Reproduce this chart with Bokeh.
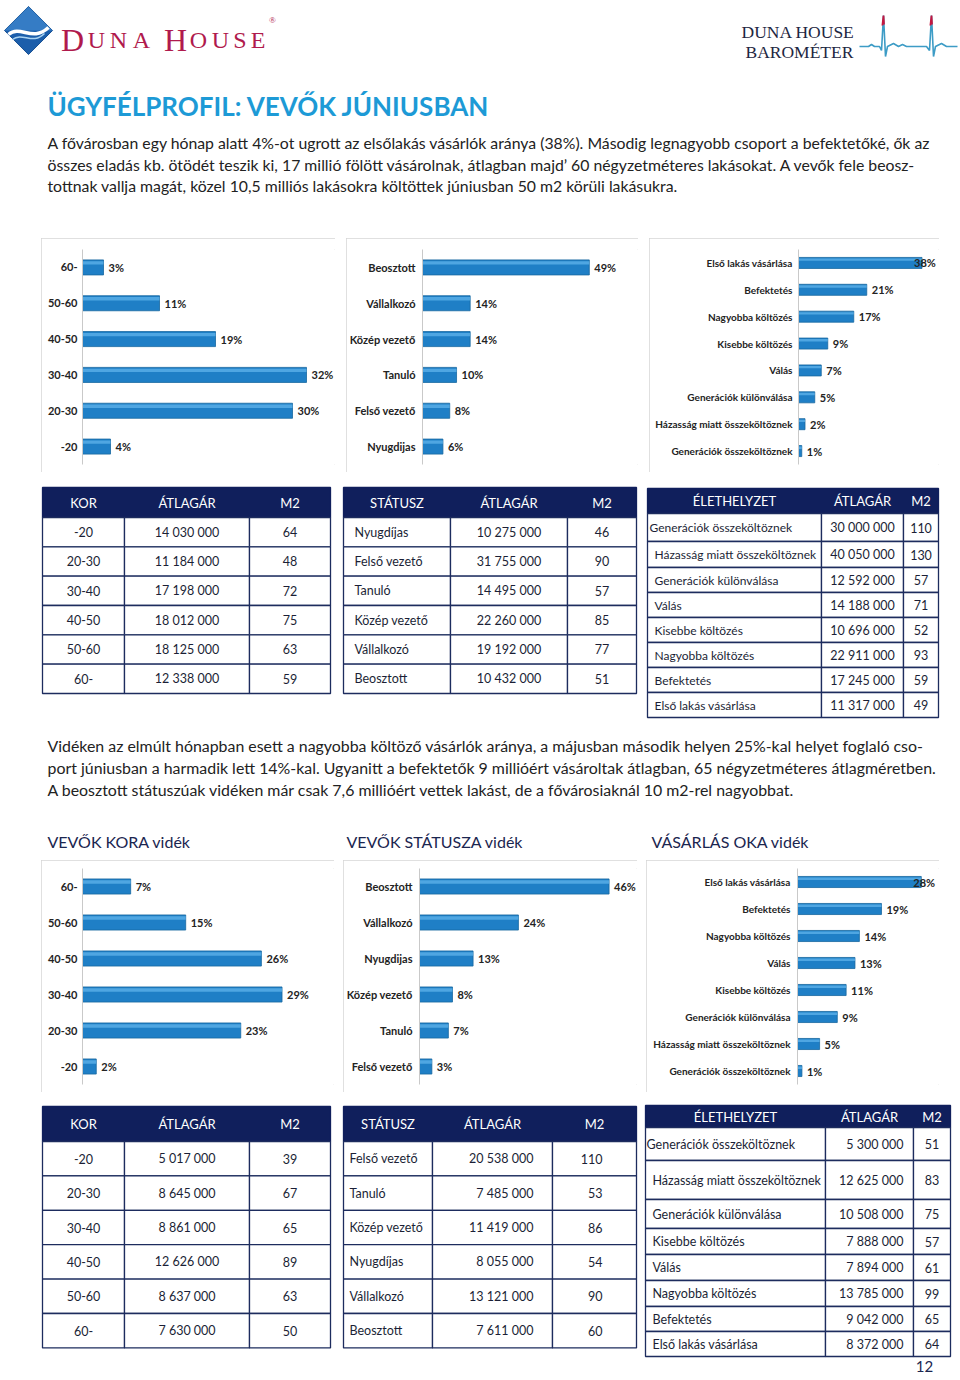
from math import pi
from bokeh.plotting import figure
from bokeh.layouts import column, row, Spacer
from bokeh.models import Range1d, FactorRange, ColumnDataSource
from bokeh.core.properties import value
from bokeh.transform import dodge
from bokeh.embed import file_html
from bokeh.resources import INLINE

# ---------------- data ----------------
age_cats = ["60-", "50-60", "40-50", "30-40", "20-30", "-20"]
age_bp = [3, 11, 19, 32, 30, 4]
status_cats_bp = ["Beosztott", "Vállalkozó", "Közép vezető", "Tanuló", "Felső vezető", "Nyugdijas"]
status_bp = [49, 14, 14, 10, 8, 6]
reason_cats_bp = ["Első lakás vásárlása", "Befektetés", "Nagyobba költözés", "Kisebbe költözés", "Válás",
                  "Generációk különválása", "Házasság miatt összeköltöznek", "Generációk összeköltöznek"]
reason_bp = [38, 21, 17, 9, 7, 5, 2, 1]

age_rural = [7, 15, 26, 29, 23, 2]
status_cats_rural = ["Beosztott", "Vállalkozó", "Nyugdijas", "Közép vezető", "Tanuló", "Felső vezető"]
status_rural = [46, 24, 13, 8, 7, 3]
reason_cats_rural = ["Első lakás vásárlása", "Befektetés", "Nagyobba költözés", "Válás", "Kisebbe költözés",
                     "Generációk különválása", "Házasság miatt összeköltöznek", "Generációk összeköltöznek"]
reason_rural = [28, 19, 14, 13, 11, 9, 5, 1]

# tables (Budapest)
t_age_rows = ["-20", "20-30", "30-40", "40-50", "50-60", "60-"]
t_age_price_bp = [14030000, 11184000, 17198000, 18012000, 18125000, 12338000]
t_age_m2_bp = [64, 48, 72, 75, 63, 59]
t_status_rows_bp = ["Nyugdíjas", "Felső vezető", "Tanuló", "Közép vezető", "Vállalkozó", "Beosztott"]
t_status_price_bp = [10275000, 31755000, 14495000, 22260000, 19192000, 10432000]
t_status_m2_bp = [46, 90, 57, 85, 77, 51]
t_reason_rows_bp = ["Generációk összeköltöznek", "Házasság miatt összeköltöznek", "Generációk különválása",
                    "Válás", "Kisebbe költözés", "Nagyobba költözés", "Befektetés", "Első lakás vásárlása"]
t_reason_price_bp = [30000000, 40050000, 12592000, 14188000, 10696000, 22911000, 17245000, 11317000]
t_reason_m2_bp = [110, 130, 57, 71, 52, 93, 59, 49]

# tables (rural)
t_age_price_r = [5017000, 8645000, 8861000, 12626000, 8637000, 7630000]
t_age_m2_r = [39, 67, 65, 89, 63, 50]
t_status_rows_r = ["Felső vezető", "Tanuló", "Közép vezető", "Nyugdíjas", "Vállalkozó", "Beosztott"]
t_status_price_r = [20538000, 7485000, 11419000, 8055000, 13121000, 7611000]
t_status_m2_r = [110, 53, 86, 54, 90, 60]
t_reason_rows_r = ["Generációk összeköltöznek", "Házasság miatt összeköltöznek", "Generációk különválása",
                   "Kisebbe költözés", "Válás", "Nagyobba költözés", "Befektetés", "Első lakás vásárlása"]
t_reason_price_r = [5300000, 12625000, 10508000, 7888000, 7894000, 13785000, 9042000, 8372000]
t_reason_m2_r = [51, 83, 75, 57, 61, 99, 65, 64]

para1 = [
    "A fővárosban egy hónap alatt 4%-ot ugrott az elsőlakás vásárlók aránya (38%). Másodig legnagyobb csoport a befektetőké, ők az",
    "összes eladás kb. ötödét teszik ki, 17 millió fölött vásárolnak, átlagban majd’ 60 négyzetméteres lakásokat. A vevők fele beosz-",
    "tottnak vallja magát, közel 10,5 milliós lakásokra költöttek júniusban 50 m2 körüli lakásukra.",
]
para2 = [
    "Vidéken az elmúlt hónapban esett a nagyobba költöző vásárlók aránya, a májusban második helyen 25%-kal helyet foglaló cso-",
    "port júniusban a harmadik lett 14%-kal. Ugyanitt a befektetők 9 millióért vásároltak átlagban, 65 négyzetméteres átlagméretben.",
    "A beosztott státuszúak vidéken már csak 7,6 millióért vettek lakást, de a fővárosiaknál 10 m2-rel nagyobbat.",
]
subtitles = ["VEVŐK KORA vidék", "VEVŐK STÁTUSZA vidék", "VÁSÁRLÁS OKA vidék"]

# ---------------- style ----------------
FONT = "Lato"
NAVY = "#101f5c"
TXT = "#1b1f36"
BAR = "#1f7fc6"
BAR_LINE = "#17679f"
BAR_HI = "#5bb0e8"


def fmt(v):
    return f"{v:,}".replace(",", " ")


def page_fig(h, y0, y1):
    p = figure(width=960, height=h, x_range=Range1d(0, 960), y_range=Range1d(y1, y0),
               output_backend="svg", toolbar_location=None, min_border=0,
               x_axis_location=None, y_axis_location=None)
    p.grid.visible = False
    p.outline_line_color = None
    p.background_fill_color = "white"
    p.border_fill_color = "white"
    return p


def txt(p, x, y, s, size, color=TXT, style="normal", align="left", font=FONT, baseline="middle"):
    p.text(x=[x], y=[y], text=[s], text_font=value(font), text_font_size=size,
           text_font_style=style, text_color=color, text_align=align, text_baseline=baseline)


def bar_chart(cats, vals, w, h, left, top, bottom, scale, bar_h, lab_size, offs, standoff):
    fw = w - left
    p = figure(width=w, height=h, y_range=FactorRange(factors=list(reversed(cats))),
               x_range=Range1d(0, fw / scale), output_backend="svg", toolbar_location=None,
               min_border_left=left, min_border_right=0, min_border_top=top, min_border_bottom=bottom,
               x_axis_location=None)
    p.grid.visible = False
    p.outline_line_color = None
    p.styles = {"outline": "1px solid #d6d6d6", "outline-offset": "-1px"}
    ax = p.yaxis[0]
    ax.axis_line_color = "#c9c9c9"
    ax.major_tick_line_color = None
    ax.minor_tick_line_color = None
    ax.major_tick_out = 0
    ax.major_tick_in = 0
    ax.minor_tick_out = 0
    ax.major_label_standoff = standoff
    ax.major_label_text_font = FONT
    ax.major_label_text_font_style = "bold"
    ax.major_label_text_font_size = lab_size
    ax.major_label_text_color = "#232323"
    src = ColumnDataSource(dict(cat=cats, val=vals, lbl=[f"{v}%" for v in vals], off=offs))
    p.hbar(y="cat", left=0, right="val", height=bar_h, source=src,
           fill_color=BAR, line_color=BAR_LINE, line_width=0.8)
    p.hbar(y=dodge("cat", bar_h * 0.3, range=p.y_range), left=0, right="val", height=bar_h * 0.22,
           source=src, fill_color=BAR_HI, line_color=None, fill_alpha=0.8)
    p.text(x="val", y="cat", text="lbl", x_offset="off", source=src, text_baseline="middle",
           text_font=value(FONT), text_font_style="bold", text_font_size="11px", text_color="#232323")
    return p


def draw_table(p, xb, yb, headers, cols, modes, head_size="13px", body_size="12.5px", first_pads=None,
               first_size=None):
    ncol = len(xb) - 1
    nrow = len(yb) - 2
    p.quad(left=[xb[0]], right=[xb[-1]], top=[yb[0]], bottom=[yb[1]],
           fill_color=NAVY, line_color=NAVY, line_width=1.3)
    L, R, T, B = [], [], [], []
    for r in range(nrow):
        for c in range(ncol):
            L.append(xb[c]); R.append(xb[c + 1]); T.append(yb[r + 1]); B.append(yb[r + 2])
    p.quad(left=L, right=R, top=T, bottom=B, fill_color="white", line_color="#1d2c5e", line_width=1.3)
    hx = [(xb[c] + xb[c + 1]) / 2 for c in range(ncol)]
    hy = [(yb[0] + yb[1]) / 2] * ncol
    p.text(x=hx, y=hy, text=headers, text_align="center", text_baseline="middle",
           text_font=value(FONT), text_font_size=head_size, text_color="white")
    for c in range(ncol):
        mode, pad = modes[c]
        xs, ys = [], []
        for r in range(nrow):
            ym = (yb[r + 1] + yb[r + 2]) / 2
            if mode == "center":
                x = (xb[c] + xb[c + 1]) / 2
            elif mode == "left":
                x = xb[c] + (first_pads[r] if (first_pads and c == 0) else pad)
            else:
                x = xb[c + 1] - pad
            xs.append(x); ys.append(ym)
        size = first_size if (c == 0 and first_size) else body_size
        p.text(x=xs, y=ys, text=[str(v) for v in cols[c]], text_align=mode, text_baseline="middle",
               text_font=value(FONT), text_font_size=size, text_color=TXT)


# ---------------- header block ----------------
pa = page_fig(238, 0, 238)
pa.rect(x=[28], y=[30], width=[34], height=[34], angle=[pi / 4], fill_color="#1c5eab", line_color="#164f92")
pa.patch(x=[28, 52, 4], y=[6, 30, 30], fill_color="#4a95da", fill_alpha=0.55, line_color=None)
pa.bezier(x0=[8], y0=[34], x1=[48], y1=[27], cx0=[20], cy0=[24], cx1=[32], cy1=[42],
          line_color="white", line_width=3.5)
pa.bezier(x0=[12], y0=[39], x1=[44], y1=[33], cx0=[22], cy0=[31], cx1=[32], cy1=[45],
          line_color="#a9d3f2", line_width=1.5)
logo_letters = ["D", "U", "N", "A", "H", "O", "U", "S", "E"]
logo_x = [72, 96, 118, 141, 175, 198, 220, 239.5, 257.5]
logo_sz = ["32px", "24px", "24px", "24px", "32px", "24px", "24px", "24px", "24px"]
pa.text(x=logo_x, y=[39] * 9, text=logo_letters, text_font_size=logo_sz, text_align="center",
        text_baseline="alphabetic", text_font=value("Liberation Serif"), text_color="#b01a4d")
txt(pa, 272, 19, "®", "9px", color="#b01a4d", align="center", font="Liberation Serif")
txt(pa, 741, 31, "DUNA HOUSE", "17.5px", color="#1e2742", font="Liberation Serif", baseline="alphabetic")
txt(pa, 745, 51, "BAROMÉTER", "17.5px", color="#1e2742", font="Liberation Serif", baseline="alphabetic")
hb_x = [859, 868, 871, 874, 879, 881, 883, 885, 887, 893, 898, 902, 906, 926, 929, 931, 933, 935, 941, 946, 957]
hb_y = [46, 46, 44, 46, 46, 50, 15, 56, 46, 43, 46, 44, 46, 46, 50, 15, 56, 46, 43, 46, 46]
pa.line(hb_x, hb_y, line_color="#3d9cc6", line_width=1.6)
pa.multi_line(xs=[[881.9, 883, 883.5], [929.9, 931, 931.5]], ys=[[25, 15, 24], [25, 15, 24]],
              line_color="#c4163f", line_width=1.8)
txt(pa, 47, 105, "ÜGYFÉLPROFIL: VEVŐK JÚNIUSBAN", "26px", color="#1d9ad6", style="bold")
for i, line in enumerate(para1):
    txt(pa, 47, 142 + 21.5 * i, line, "15.8px", color="#222222")

# ---------------- top charts ----------------
c1 = bar_chart(age_cats, age_bp, 294, 234, 41, 10, 8, 7.0, 0.42, "11px", [5] * 6, 5)
c2 = bar_chart(status_cats_bp, status_bp, 292, 234, 75, 10, 8, 3.42, 0.42, "11px", [5] * 6, 7)
c3 = bar_chart(reason_cats_bp, reason_bp, 290, 234, 149, 11, 6, 3.25, 0.41, "10px",
               [-8] + [5] * 7, 6)
row_b = row(Spacer(width=41, height=234), c1, Spacer(width=11, height=234), c2,
            Spacer(width=11, height=234), c3, Spacer(width=21, height=234))

# ---------------- middle block: tables + text ----------------
pc = page_fig(388, 472, 860)
yb6 = [487] + [517 + 29.33 * i for i in range(7)]
draw_table(pc, [42, 124, 249, 330], yb6, ["KOR", "ÁTLAGÁR", "M2"],
           [t_age_rows, [fmt(v) for v in t_age_price_bp], t_age_m2_bp],
           [("center", 0), ("center", 0), ("center", 0)])
draw_table(pc, [343, 450, 567, 636], yb6, ["STÁTUSZ", "ÁTLAGÁR", "M2"],
           [t_status_rows_bp, [fmt(v) for v in t_status_price_bp], t_status_m2_bp],
           [("left", 11), ("center", 0), ("center", 0)])
draw_table(pc, [647, 821, 903, 938], [488, 513, 541, 567, 592, 617, 642, 667, 692, 717],
           ["ÉLETHELYZET", "ÁTLAGÁR", "M2"],
           [t_reason_rows_bp, [fmt(v) for v in t_reason_price_bp], t_reason_m2_bp],
           [("left", 8), ("center", 0), ("center", 0)], first_pads=[2] + [7] * 7, first_size="12px")
for i, line in enumerate(para2):
    txt(pc, 47, 745 + 22 * i, line, "15.9px", color="#222222")
for x, s in zip([47, 346, 651], subtitles):
    txt(pc, x, 841, s, "16px", color="#1b2650")

# ---------------- bottom charts ----------------
d1 = bar_chart(age_cats, age_rural, 293, 232, 41, 8, 8, 6.88, 0.42, "11px", [5] * 6, 5)
d2 = bar_chart(status_cats_rural, status_rural, 294, 232, 75, 8, 8, 4.14, 0.42, "11px", [5] * 6, 7)
d3 = bar_chart(reason_cats_rural, reason_rural, 293, 232, 151, 7, 4, 4.42, 0.41, "10px",
               [-8] + [5] * 7, 7)
row_d = row(Spacer(width=41, height=232), d1, Spacer(width=9, height=232), d2,
            Spacer(width=9, height=232), d3, Spacer(width=21, height=232))

# ---------------- bottom block: tables ----------------
pe = page_fig(286, 1092, 1378)
yb6b = [1106] + [1141 + 34.4 * i for i in range(7)]
draw_table(pe, [42, 124, 249, 330], yb6b, ["KOR", "ÁTLAGÁR", "M2"],
           [t_age_rows, [fmt(v) for v in t_age_price_r], t_age_m2_r],
           [("center", 0), ("center", 0), ("center", 0)])
draw_table(pe, [343, 432, 552, 636], yb6b, ["STÁTUSZ", "ÁTLAGÁR", "M2"],
           [t_status_rows_r, [fmt(v) for v in t_status_price_r], t_status_m2_r],
           [("left", 6), ("right", 19), ("right", 34)])
draw_table(pe, [645, 825, 913, 950], [1105, 1127, 1160, 1199, 1228, 1254, 1280, 1306, 1331, 1356],
           ["ÉLETHELYZET", "ÁTLAGÁR", "M2"],
           [t_reason_rows_r, [fmt(v) for v in t_reason_price_r], t_reason_m2_r],
           [("left", 7), ("right", 10), ("center", 0)], first_pads=[1] + [7] * 7)
txt(pe, 924, 1366, "12", "15px", color="#1b2650", align="center", baseline="middle")

layout = column(pa, row_b, pc, row_d, pe)

open("out.html", "w").write(file_html(layout, INLINE))
